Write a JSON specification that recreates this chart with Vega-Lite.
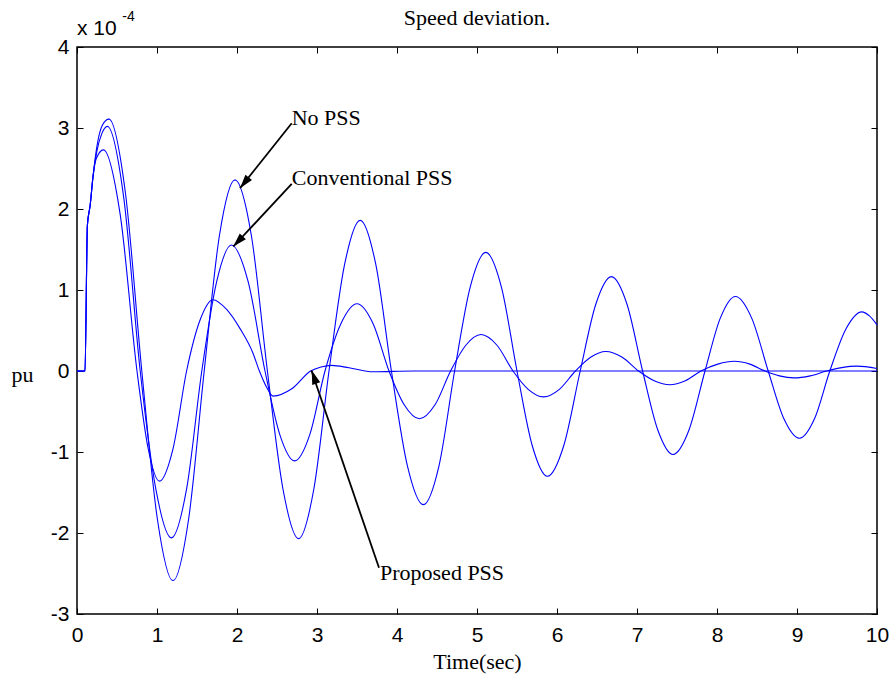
{
  "$schema": "https://vega.github.io/schema/vega-lite/v6.json",
  "width": 800,
  "height": 567,
  "autosize": "none",
  "padding": {"left": 77, "top": 47, "right": 18, "bottom": 67},
  "background": "white",
  "config": {
    "view": {"stroke": "black", "strokeWidth": 1.5},
    "axis": {"grid": false, "domain": false, "tickColor": "black", "tickWidth": 1, "tickSize": -6, "labelColor": "black"}
  },
  "datasets": {
    "curves": [
      {"series": "No PSS", "t": 0, "v": 0},
      {"series": "No PSS", "t": 0.1, "v": 0},
      {"series": "No PSS", "t": 0.13, "v": 1.8},
      {"series": "No PSS", "t": 0.165, "v": 2.05},
      {"series": "No PSS", "t": 0.2, "v": 2.4},
      {"series": "No PSS", "t": 0.25, "v": 2.78},
      {"series": "No PSS", "t": 0.32, "v": 3.04},
      {"series": "No PSS", "t": 0.4, "v": 3.11},
      {"series": "No PSS", "t": 0.605, "v": 2.2},
      {"series": "No PSS", "t": 0.81, "v": 0},
      {"series": "No PSS", "t": 1.005, "v": -1.83},
      {"series": "No PSS", "t": 1.2, "v": -2.59},
      {"series": "No PSS", "t": 1.395, "v": -1.83},
      {"series": "No PSS", "t": 1.59, "v": 0},
      {"series": "No PSS", "t": 1.78, "v": 1.67},
      {"series": "No PSS", "t": 1.975, "v": 2.36},
      {"series": "No PSS", "t": 2.18, "v": 1.67},
      {"series": "No PSS", "t": 2.38, "v": 0},
      {"series": "No PSS", "t": 2.575, "v": -1.46},
      {"series": "No PSS", "t": 2.77, "v": -2.07},
      {"series": "No PSS", "t": 2.96, "v": -1.46},
      {"series": "No PSS", "t": 3.15, "v": 0},
      {"series": "No PSS", "t": 3.345, "v": 1.315},
      {"series": "No PSS", "t": 3.54, "v": 1.86},
      {"series": "No PSS", "t": 3.735, "v": 1.315},
      {"series": "No PSS", "t": 3.93, "v": 0},
      {"series": "No PSS", "t": 4.13, "v": -1.17},
      {"series": "No PSS", "t": 4.33, "v": -1.65},
      {"series": "No PSS", "t": 4.525, "v": -1.17},
      {"series": "No PSS", "t": 4.72, "v": 0},
      {"series": "No PSS", "t": 4.915, "v": 1.036},
      {"series": "No PSS", "t": 5.11, "v": 1.465},
      {"series": "No PSS", "t": 5.305, "v": 1.036},
      {"series": "No PSS", "t": 5.5, "v": 0},
      {"series": "No PSS", "t": 5.69, "v": -0.92},
      {"series": "No PSS", "t": 5.88, "v": -1.3},
      {"series": "No PSS", "t": 6.085, "v": -0.92},
      {"series": "No PSS", "t": 6.29, "v": 0},
      {"series": "No PSS", "t": 6.485, "v": 0.824},
      {"series": "No PSS", "t": 6.68, "v": 1.165},
      {"series": "No PSS", "t": 6.875, "v": 0.824},
      {"series": "No PSS", "t": 7.07, "v": 0},
      {"series": "No PSS", "t": 7.26, "v": -0.728},
      {"series": "No PSS", "t": 7.45, "v": -1.03},
      {"series": "No PSS", "t": 7.65, "v": -0.728},
      {"series": "No PSS", "t": 7.85, "v": 0},
      {"series": "No PSS", "t": 8.04, "v": 0.65},
      {"series": "No PSS", "t": 8.23, "v": 0.92},
      {"series": "No PSS", "t": 8.435, "v": 0.65},
      {"series": "No PSS", "t": 8.64, "v": 0},
      {"series": "No PSS", "t": 8.835, "v": -0.587},
      {"series": "No PSS", "t": 9.03, "v": -0.83},
      {"series": "No PSS", "t": 9.22, "v": -0.587},
      {"series": "No PSS", "t": 9.41, "v": 0},
      {"series": "No PSS", "t": 9.61, "v": 0.516},
      {"series": "No PSS", "t": 9.81, "v": 0.73},
      {"series": "No PSS", "t": 9.905, "v": 0.68},
      {"series": "No PSS", "t": 10, "v": 0.57},
      {"series": "Conventional PSS", "t": 0, "v": 0},
      {"series": "Conventional PSS", "t": 0.1, "v": 0},
      {"series": "Conventional PSS", "t": 0.13, "v": 1.8},
      {"series": "Conventional PSS", "t": 0.165, "v": 2.05},
      {"series": "Conventional PSS", "t": 0.2, "v": 2.4},
      {"series": "Conventional PSS", "t": 0.25, "v": 2.72},
      {"series": "Conventional PSS", "t": 0.31, "v": 2.93},
      {"series": "Conventional PSS", "t": 0.38, "v": 3.02},
      {"series": "Conventional PSS", "t": 0.585, "v": 2.135},
      {"series": "Conventional PSS", "t": 0.79, "v": 0},
      {"series": "Conventional PSS", "t": 0.985, "v": -1.456},
      {"series": "Conventional PSS", "t": 1.18, "v": -2.06},
      {"series": "Conventional PSS", "t": 1.37, "v": -1.456},
      {"series": "Conventional PSS", "t": 1.56, "v": 0},
      {"series": "Conventional PSS", "t": 1.745, "v": 1.1},
      {"series": "Conventional PSS", "t": 1.93, "v": 1.555},
      {"series": "Conventional PSS", "t": 2.14, "v": 1.1},
      {"series": "Conventional PSS", "t": 2.35, "v": 0},
      {"series": "Conventional PSS", "t": 2.535, "v": -0.785},
      {"series": "Conventional PSS", "t": 2.72, "v": -1.11},
      {"series": "Conventional PSS", "t": 2.91, "v": -0.785},
      {"series": "Conventional PSS", "t": 3.1, "v": 0},
      {"series": "Conventional PSS", "t": 3.3, "v": 0.587},
      {"series": "Conventional PSS", "t": 3.5, "v": 0.83},
      {"series": "Conventional PSS", "t": 3.7, "v": 0.587},
      {"series": "Conventional PSS", "t": 3.9, "v": 0},
      {"series": "Conventional PSS", "t": 4.09, "v": -0.417},
      {"series": "Conventional PSS", "t": 4.28, "v": -0.59},
      {"series": "Conventional PSS", "t": 4.475, "v": -0.417},
      {"series": "Conventional PSS", "t": 4.67, "v": 0},
      {"series": "Conventional PSS", "t": 4.86, "v": 0.318},
      {"series": "Conventional PSS", "t": 5.05, "v": 0.45},
      {"series": "Conventional PSS", "t": 5.25, "v": 0.318},
      {"series": "Conventional PSS", "t": 5.45, "v": 0},
      {"series": "Conventional PSS", "t": 5.64, "v": -0.226},
      {"series": "Conventional PSS", "t": 5.83, "v": -0.32},
      {"series": "Conventional PSS", "t": 6.03, "v": -0.226},
      {"series": "Conventional PSS", "t": 6.23, "v": 0},
      {"series": "Conventional PSS", "t": 6.42, "v": 0.17},
      {"series": "Conventional PSS", "t": 6.61, "v": 0.24},
      {"series": "Conventional PSS", "t": 6.815, "v": 0.17},
      {"series": "Conventional PSS", "t": 7.02, "v": 0},
      {"series": "Conventional PSS", "t": 7.215, "v": -0.12},
      {"series": "Conventional PSS", "t": 7.41, "v": -0.17},
      {"series": "Conventional PSS", "t": 7.605, "v": -0.12},
      {"series": "Conventional PSS", "t": 7.8, "v": 0},
      {"series": "Conventional PSS", "t": 8.01, "v": 0.085},
      {"series": "Conventional PSS", "t": 8.22, "v": 0.12},
      {"series": "Conventional PSS", "t": 8.41, "v": 0.085},
      {"series": "Conventional PSS", "t": 8.6, "v": 0},
      {"series": "Conventional PSS", "t": 8.78, "v": -0.06},
      {"series": "Conventional PSS", "t": 8.96, "v": -0.085},
      {"series": "Conventional PSS", "t": 9.165, "v": -0.06},
      {"series": "Conventional PSS", "t": 9.37, "v": 0},
      {"series": "Conventional PSS", "t": 9.56, "v": 0.042},
      {"series": "Conventional PSS", "t": 9.75, "v": 0.06},
      {"series": "Conventional PSS", "t": 10, "v": 0.03},
      {"series": "Proposed PSS", "t": 0, "v": 0},
      {"series": "Proposed PSS", "t": 0.1, "v": 0},
      {"series": "Proposed PSS", "t": 0.13, "v": 1.8},
      {"series": "Proposed PSS", "t": 0.165, "v": 2.05},
      {"series": "Proposed PSS", "t": 0.2, "v": 2.4},
      {"series": "Proposed PSS", "t": 0.24, "v": 2.62},
      {"series": "Proposed PSS", "t": 0.33, "v": 2.73},
      {"series": "Proposed PSS", "t": 0.54, "v": 1.93},
      {"series": "Proposed PSS", "t": 0.75, "v": 0},
      {"series": "Proposed PSS", "t": 0.89, "v": -0.96},
      {"series": "Proposed PSS", "t": 1.03, "v": -1.36},
      {"series": "Proposed PSS", "t": 1.2, "v": -0.96},
      {"series": "Proposed PSS", "t": 1.37, "v": 0},
      {"series": "Proposed PSS", "t": 1.535, "v": 0.62},
      {"series": "Proposed PSS", "t": 1.7, "v": 0.88},
      {"series": "Proposed PSS", "t": 1.87, "v": 0.76},
      {"series": "Proposed PSS", "t": 2.04, "v": 0.52},
      {"series": "Proposed PSS", "t": 2.2, "v": 0.22},
      {"series": "Proposed PSS", "t": 2.28, "v": 0},
      {"series": "Proposed PSS", "t": 2.37, "v": -0.2},
      {"series": "Proposed PSS", "t": 2.45, "v": -0.31},
      {"series": "Proposed PSS", "t": 2.685, "v": -0.22},
      {"series": "Proposed PSS", "t": 2.92, "v": 0},
      {"series": "Proposed PSS", "t": 3.05, "v": 0.05},
      {"series": "Proposed PSS", "t": 3.18, "v": 0.07},
      {"series": "Proposed PSS", "t": 3.4, "v": 0.04},
      {"series": "Proposed PSS", "t": 3.7, "v": -0.01},
      {"series": "Proposed PSS", "t": 4.2, "v": 0},
      {"series": "Proposed PSS", "t": 10, "v": 0}
    ],
    "arrows": [
      {"name": "No PSS", "t1": 2.684, "v1": 3.059, "t2": 2.0375, "v2": 2.257},
      {"name": "Conventional PSS", "t1": 2.684, "v1": 2.31, "t2": 1.954, "v2": 1.537},
      {"name": "Proposed PSS", "t1": 3.775, "v1": -2.43, "t2": 2.93, "v2": 0.007}
    ],
    "heads": [
      {"name": "No PSS", "t": 2.092, "v": 2.323},
      {"name": "Conventional PSS", "t": 2.013, "v": 1.6},
      {"name": "Proposed PSS", "t": 2.962, "v": -0.074}
    ],
    "labels": [
      {"text": "No PSS", "t": 2.684, "v": 3.038},
      {"text": "Conventional PSS", "t": 2.684, "v": 2.298},
      {"text": "Proposed PSS", "t": 3.7875, "v": -2.583}
    ],
    "titletext": [
      {"text": "Speed deviation.", "t": 5, "v": 4.272}
    ],
    "exponent": [
      {"text": "x 10", "t": 0, "v": 4.148}
    ],
    "power": [
      {"text": "-4", "t": 0.566, "v": 4.325}
    ]
  },
  "layer": [
    {
      "data": {"name": "curves"},
      "mark": {"type": "line", "interpolate": "monotone", "color": "#0000ff", "strokeWidth": 1.1},
      "encoding": {
        "x": {
          "field": "t", "type": "quantitative",
          "scale": {"domain": [0, 10], "nice": false, "zero": false},
          "axis": {
            "orient": "bottom",
            "values": [0, 1, 2, 3, 4, 5, 6, 7, 8, 9, 10],
            "labelFont": "Liberation Sans", "labelFontSize": 21, "labelPadding": 16,
            "labelFlush": false, "labelOverlap": false,
            "labelExpr": "datum.value < 0 ? '-' + abs(datum.value) : '' + datum.value",
            "title": "Time(sec)", "titleFont": "Liberation Serif", "titleFontSize": 22,
            "titleFontWeight": "normal", "titleColor": "black",
            "titleBaseline": "alphabetic", "titleAlign": "center", "titleX": 400, "titleY": 54
          }
        },
        "y": {
          "field": "v", "type": "quantitative",
          "scale": {"domain": [-3, 4], "nice": false, "zero": false},
          "axis": {
            "orient": "left",
            "values": [-3, -2, -1, 0, 1, 2, 3, 4],
            "labelFont": "Liberation Sans", "labelFontSize": 21, "labelPadding": 14,
            "labelFlush": false, "labelOverlap": false,
            "labelExpr": "datum.value < 0 ? '-' + abs(datum.value) : '' + datum.value",
            "title": "pu", "titleFont": "Liberation Serif", "titleFontSize": 22,
            "titleFontWeight": "normal", "titleColor": "black", "titleAngle": 0,
            "titleAlign": "center", "titleBaseline": "middle", "titleX": -55, "titleY": 327
          }
        },
        "detail": {"field": "series"}
      }
    },
    {
      "data": {"name": "arrows"},
      "mark": {"type": "rule", "color": "black", "strokeWidth": 1.8},
      "encoding": {
        "x": {
          "field": "t1", "type": "quantitative",
          "axis": {"orient": "top", "values": [0, 1, 2, 3, 4, 5, 6, 7, 8, 9, 10], "labels": false, "title": null}
        },
        "y": {
          "field": "v1", "type": "quantitative",
          "axis": {"orient": "right", "values": [-3, -2, -1, 0, 1, 2, 3, 4], "labels": false, "title": null}
        },
        "x2": {"field": "t2"},
        "y2": {"field": "v2"}
      }
    },
    {
      "data": {"name": "heads"},
      "transform": [{"filter": "datum.name === 'No PSS'"}],
      "mark": {"type": "point", "shape": "M0,-1L0.6,1L-0.6,1Z", "filled": true, "color": "black", "opacity": 1, "size": 196, "angle": 218.5},
      "encoding": {
        "x": {"field": "t", "type": "quantitative", "axis": null},
        "y": {"field": "v", "type": "quantitative", "axis": null}
      }
    },
    {
      "data": {"name": "heads"},
      "transform": [{"filter": "datum.name === 'Conventional PSS'"}],
      "mark": {"type": "point", "shape": "M0,-1L0.6,1L-0.6,1Z", "filled": true, "color": "black", "opacity": 1, "size": 196, "angle": 223},
      "encoding": {
        "x": {"field": "t", "type": "quantitative", "axis": null},
        "y": {"field": "v", "type": "quantitative", "axis": null}
      }
    },
    {
      "data": {"name": "heads"},
      "transform": [{"filter": "datum.name === 'Proposed PSS'"}],
      "mark": {"type": "point", "shape": "M0,-1L0.6,1L-0.6,1Z", "filled": true, "color": "black", "opacity": 1, "size": 196, "angle": 341.2},
      "encoding": {
        "x": {"field": "t", "type": "quantitative", "axis": null},
        "y": {"field": "v", "type": "quantitative", "axis": null}
      }
    },
    {
      "data": {"name": "labels"},
      "mark": {"type": "text", "font": "Liberation Serif", "fontSize": 22, "align": "left", "baseline": "alphabetic", "color": "black"},
      "encoding": {
        "x": {"field": "t", "type": "quantitative", "axis": null},
        "y": {"field": "v", "type": "quantitative", "axis": null},
        "text": {"field": "text"}
      }
    },
    {
      "data": {"name": "titletext"},
      "mark": {"type": "text", "font": "Liberation Serif", "fontSize": 22, "align": "center", "baseline": "alphabetic", "color": "black"},
      "encoding": {
        "x": {"field": "t", "type": "quantitative", "axis": null},
        "y": {"field": "v", "type": "quantitative", "axis": null},
        "text": {"field": "text"}
      }
    },
    {
      "data": {"name": "exponent"},
      "mark": {"type": "text", "font": "Liberation Sans", "fontSize": 21, "align": "left", "baseline": "alphabetic", "color": "black"},
      "encoding": {
        "x": {"field": "t", "type": "quantitative", "axis": null},
        "y": {"field": "v", "type": "quantitative", "axis": null},
        "text": {"field": "text"}
      }
    },
    {
      "data": {"name": "power"},
      "mark": {"type": "text", "font": "Liberation Sans", "fontSize": 14, "align": "left", "baseline": "alphabetic", "color": "black"},
      "encoding": {
        "x": {"field": "t", "type": "quantitative", "axis": null},
        "y": {"field": "v", "type": "quantitative", "axis": null},
        "text": {"field": "text"}
      }
    }
  ],
  "resolve": {"axis": {"x": "independent", "y": "independent"}}
}
